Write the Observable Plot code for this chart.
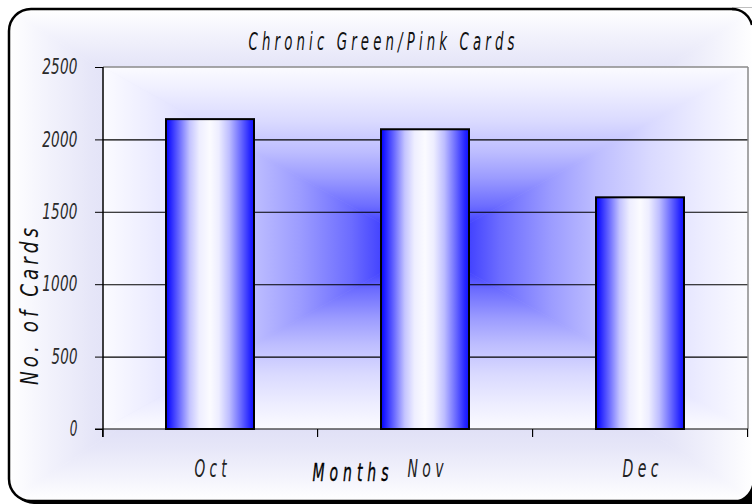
<!DOCTYPE html>
<html>
<head>
<meta charset="utf-8">
<script src="https://cdn.jsdelivr.net/npm/d3@7"></script>
<script src="https://cdn.jsdelivr.net/npm/@observablehq/plot@0.6"></script>
<style>
html, body { margin: 0; padding: 0; background: #ffffff; overflow: hidden; }
svg { display: block; }
</style>
</head>
<body>
<div id="chart"></div>
<script>
// ---- data ----
const months = ["Oct", "Nov", "Dec"];
const cards = [2140, 2070, 1600];
const yTicks = [0, 500, 1000, 1500, 2000, 2500];
const titleText = "Chronic Green/Pink Cards";
const yLabelText = "No. of Cards";
const xLabelText = "Months";

const data = months.map((m, i) => ({month: m, cards: cards[i]}));

// ---- styling ----
const W = 752, H = 504;
const FONT = "'Liberation Sans Narrow','Arial Narrow','DejaVu Sans Condensed','Liberation Sans',sans-serif";
const barStops = [[0,"#0000ff"],[0.06,"#2a2aff"],[0.15,"#6a6aff"],[0.27,"#c4c4ff"],[0.38,"#eeeeff"],[0.5,"#fbfbff"],[0.6,"#ededff"],[0.72,"#bdbdff"],[0.85,"#6a6aff"],[0.95,"#2828ff"],[1,"#1010ff"]];
const plotStops = [[0,"#2020ff"],[0.14,"#4545ff"],[0.23,"#6c6cff"],[0.39,"#9c9cff"],[0.53,"#bdbdff"],[0.7,"#dadaff"],[0.87,"#eeeeff"],[1,"#fbfbff"]];
const outerStops = [[0,"#b8b8ee"],[0.6,"#d8d8f4"],[0.78,"#e6e6f8"],[0.9,"#f3f3fc"],[1,"#ffffff"]];

function rectGrad(g, defs, id, x0, y0, x1, y1, stops) {
  const cx = (x0 + x1) / 2, cy = (y0 + y1) / 2;
  const sides = [
    {pts: [[x0,y0],[x1,y0],[cx,cy]], to: [cx,y0]},
    {pts: [[x0,y1],[x1,y1],[cx,cy]], to: [cx,y1]},
    {pts: [[x0,y0],[x0,y1],[cx,cy]], to: [x0,cy]},
    {pts: [[x1,y0],[x1,y1],[cx,cy]], to: [x1,cy]}
  ];
  sides.forEach((s, i) => {
    const lg = defs.append("linearGradient").attr("id", id + i)
      .attr("gradientUnits", "userSpaceOnUse")
      .attr("x1", cx).attr("y1", cy).attr("x2", s.to[0]).attr("y2", s.to[1]);
    stops.forEach(([o, c]) => lg.append("stop").attr("offset", o).attr("stop-color", c));
    g.append("polygon")
      .attr("points", s.pts.map(p => p.join(",")).join(" "))
      .attr("fill", `url(#${id + i})`)
      .attr("stroke", `url(#${id + i})`)
      .attr("stroke-width", 0.6);
  });
}

function background(index, scales, values, dims) {
  const {width, height, marginLeft, marginRight, marginTop, marginBottom} = dims;
  const g = d3.create("svg:g");
  const defs = g.append("defs");
  const bg = defs.append("linearGradient").attr("id", "barGrad")
    .attr("x1", 0).attr("x2", 1).attr("y1", 0).attr("y2", 0);
  barStops.forEach(([o, c]) => bg.append("stop").attr("offset", o).attr("stop-color", c));
  // chart-area frame: left corners rounded, right side runs past the picture edge
  const fx = 9, fy = 9, fw = width + 20, fh = height - 12, r = 22;
  defs.append("clipPath").attr("id", "frameClip").append("rect")
    .attr("x", fx).attr("y", fy).attr("width", fw).attr("height", fh).attr("rx", r).attr("ry", r);
  g.append("rect").attr("x", fx + 3).attr("y", fy + 3).attr("width", fw).attr("height", fh)
    .attr("rx", r).attr("ry", r).attr("fill", "#000");
  g.append("rect").attr("x", fx).attr("y", fy).attr("width", fw).attr("height", fh)
    .attr("rx", r).attr("ry", r).attr("fill", "#fff");
  const fg = g.append("g").attr("clip-path", "url(#frameClip)");
  rectGrad(fg, defs, "outerG", fx, fy, width + 2, fy + fh, outerStops);
  g.append("rect").attr("x", fx).attr("y", fy).attr("width", fw).attr("height", fh)
    .attr("rx", r).attr("ry", r).attr("fill", "none").attr("stroke", "#000").attr("stroke-width", 2.5);
  // right-hand corners, cut by the picture edge
  const ra = 20.5, ex = width, top = fy, bot = fy + fh;
  g.append("path").attr("d", `M${ex - 20},${top - 1} L${ex},${top - 1} L${ex},${top + 16} A${ra},${ra} 0 0 0 ${ex - 20},${top} Z`).attr("fill", "#fff");
  g.append("path").attr("d", `M${ex - 20},${top} A${ra},${ra} 0 0 1 ${ex},${top + 16}`).attr("fill", "none").attr("stroke", "#000").attr("stroke-width", 2.5);
  g.append("path").attr("d", `M${ex - 20},${bot} A${ra},${ra} 0 0 0 ${ex},${bot - 16} L${ex},${height} L${ex - 20},${height} Z`).attr("fill", "#000");
  rectGrad(g, defs, "plotG", marginLeft, marginTop, width - marginRight, height - marginBottom, plotStops);
  return g.node();
}

function overlay(index, scales, values, dims) {
  const {width, marginLeft, marginRight} = dims;
  const x = scales.x, y = scales.y;
  const x0 = marginLeft, x1 = width - marginRight, y0 = y(yTicks[yTicks.length - 1]), y1 = y(0);
  const g = d3.create("svg:g");
  g.append("line").attr("x1", x0).attr("x2", x1).attr("y1", y0).attr("y2", y0).attr("stroke", "#8a8a8a").attr("stroke-width", 1.5);
  g.append("line").attr("x1", x1).attr("x2", x1).attr("y1", y0).attr("y2", y1).attr("stroke", "#8a8a8a").attr("stroke-width", 1.5);
  g.append("line").attr("x1", x0).attr("x2", x0).attr("y1", y0).attr("y2", y1 + 8).attr("stroke", "#000").attr("stroke-width", 1.5);
  g.append("line").attr("x1", x0 - 8).attr("x2", x1).attr("y1", y1).attr("y2", y1).attr("stroke", "#000").attr("stroke-width", 1.2);
  const step = x(months[1]) - x(months[0]);
  const bw = step * (1 - 0.59);
  const bounds = months.map(m => x(m) - (step - bw) / 2);
  bounds.push(x(months[months.length - 1]) + bw + (step - bw) / 2);
  bounds.forEach(b => g.append("line").attr("x1", b).attr("x2", b).attr("y1", y1).attr("y2", y1 + 8).attr("stroke", "#000").attr("stroke-width", 1.2));
  return g.node();
}

const chart = Plot.plot({
  width: W, height: H,
  marginLeft: 103, marginRight: 4, marginTop: 67, marginBottom: 75,
  style: {background: "transparent", fontFamily: FONT, fontStyle: "italic"},
  x: {domain: months, paddingInner: 0.59, paddingOuter: 0.295, axis: null, label: null},
  y: {domain: [0, 2500], axis: null, label: null},
  marks: [
    background,
    Plot.ruleY(yTicks.filter(v => v > 0 && v < 2500), {stroke: "#000", strokeWidth: 1.1}),
    Plot.barY(data, {x: "month", y: "cards", fill: "url(#barGrad)", stroke: "#000", strokeWidth: 2}),
    overlay,
    Plot.axisY({ticks: yTicks, tickSize: 8, tickPadding: 18, fontSize: 21, tickFormat: d => String(d), stroke: "#000", fill: "#2a2a2a"}),
    Plot.axisX({tickSize: 0, tickPadding: 30, fontSize: 25, fill: "#222"}),
    Plot.text([titleText], {frameAnchor: "top-left", dx: 278, dy: -18, lineAnchor: "bottom", textAnchor: "middle", fontSize: 25, fill: "#111"}),
    Plot.text([yLabelText], {frameAnchor: "top-left", dx: -66, dy: 239, lineAnchor: "bottom", textAnchor: "middle", rotate: -90, fontSize: 25, fill: "#111"}),
    Plot.text([xLabelText], {frameAnchor: "top-left", dx: 247, dy: 413, lineAnchor: "bottom", textAnchor: "middle", fontSize: 25, fill: "#000", stroke: "#000", strokeWidth: 0.35})
  ]
});

document.getElementById("chart").appendChild(chart);

// text fitting: narrow glyphs with wide spacing, as in the reference
const svg = d3.select(chart);
function squeeze(match, spacing, lenFn) {
  svg.selectAll("text").filter(function() { return match(this.textContent); }).each(function() {
    const t = this.textContent;
    this.setAttribute("letter-spacing", spacing);
    const nat = this.getComputedTextLength();
    const ink = Math.max(1, nat - spacing);
    const s = lenFn(t) / ink;
    const anchor = getComputedStyle(this).textAnchor || this.getAttribute("text-anchor") || "start";
    const shift = anchor === "middle" ? spacing / 2 : anchor === "end" ? spacing : 0;
    let tr = this.getAttribute("transform") || "";
    const xa = this.getAttribute("x");
    if (xa && !isNaN(+xa)) { tr += ` translate(${+xa},0)`; this.removeAttribute("x"); }
    this.setAttribute("transform", `${tr} scale(${s},1) translate(${shift},0)`.trim());
  });
}
squeeze(t => t === titleText, 7, () => 266);
squeeze(t => t === yLabelText, 5, () => 157);
squeeze(t => t === xLabelText, 8, () => 76);
squeeze(t => months.includes(t), 7, t => (t === "Oct" ? 32 : 36));
squeeze(t => yTicks.map(String).includes(t), 0.3, t => 9.2 * t.length - 1.5);
</script>
</body>
</html>
